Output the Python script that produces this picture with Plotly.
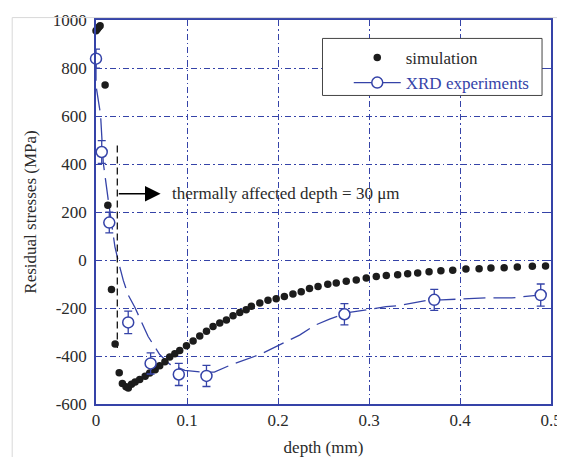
import plotly.graph_objects as go

# ---- data ----
sim_depth = [0.000, 0.0015, 0.003, 0.0045, 0.010, 0.013, 0.017, 0.021, 0.0255, 0.029, 0.033, 0.0355,
             0.039, 0.043, 0.048, 0.054, 0.059, 0.065, 0.070, 0.0757, 0.081, 0.0866, 0.092, 0.0994,
             0.1067, 0.114, 0.1214, 0.1286, 0.136, 0.1433, 0.1506, 0.158, 0.165, 0.1707, 0.180, 0.189,
             0.198, 0.207, 0.2164, 0.2255, 0.2346, 0.244, 0.2547, 0.264, 0.275, 0.286, 0.297, 0.308,
             0.319, 0.3315, 0.3425, 0.3535, 0.366, 0.379, 0.392, 0.4065, 0.421, 0.434, 0.4485, 0.463,
             0.4795, 0.494]
sim_stress = [955, 963, 970, 976, 729, 228, -123, -350, -470, -515, -528, -533,
              -518, -508, -498, -484, -471, -457, -441, -424, -404, -391, -377, -357,
              -337, -317, -297, -277, -263, -250, -232, -219, -207, -193, -179, -168,
              -161, -152, -142, -132, -119, -110, -101, -96, -89, -83, -75, -69,
              -65, -61, -57, -54, -49, -45, -43, -38, -36, -33, -32, -29,
              -26, -25]

xrd_depth = [0.0, 0.0063, 0.0146, 0.0354, 0.060, 0.091, 0.1214, 0.273, 0.3717, 0.4887]
xrd_stress = [839, 450, 156, -260, -431, -477, -483, -226, -166, -146]
xrd_error = [40, 47, 43, 47, 44, 46, 44, 44, 44, 46]

fit_depth = [0.0, 0.0, 0.005, 0.0063, 0.008, 0.0135, 0.0208, 0.0245, 0.030, 0.0354, 0.039, 0.0428,
             0.0573, 0.070, 0.081, 0.0976, 0.117, 0.130, 0.150, 0.180, 0.2237, 0.240, 0.2566,
             0.2785, 0.300, 0.3187, 0.3333, 0.366, 0.380, 0.4287, 0.457, 0.465, 0.487]
fit_stress = [839, 727, 606, 510, 405, 249, 55, -5, -85, -146, -173, -198,
              -319, -394, -434, -460, -467, -467, -434, -394, -313, -273, -246,
              -218, -206, -194, -190, -166, -166, -158, -158, -154, -146]

thermal_depth = [0.0234, 0.0234]
thermal_stress = [477, -367]
arrow_tail = (0.0234, 276)
arrow_head = (0.071, 276)
label_pos = (0.0811, 276)

x_ticks = [0, 0.1, 0.2, 0.3, 0.4, 0.5]
x_tick_labels = ["0", "0.1", "0.2", "0.3", "0.4", "0.5"]
y_ticks = [-600, -400, -200, 0, 200, 400, 600, 800, 1000]
y_tick_labels = ["-600", "-400", "-200", "0", "200", "400", "600", "800", "1000"]

BLUE = "#3543a8"
FONT = "Liberation Serif"
TXT = "#2a2a2a"

fig = go.Figure()
fig.add_trace(go.Scatter(x=fit_depth, y=fit_stress, mode="lines",
                         line=dict(color=BLUE, width=1.3, dash="22px,8px"),
                         showlegend=False, hoverinfo="skip"))
fig.add_trace(go.Scatter(x=thermal_depth, y=thermal_stress, mode="lines",
                         line=dict(color="black", width=1.2, dash="7px,4px"),
                         showlegend=False, hoverinfo="skip"))
fig.add_trace(go.Scatter(x=sim_depth, y=sim_stress, mode="markers", name="simulation",
                         marker=dict(color="#1c1c1c", size=7.5), cliponaxis=False))
fig.add_trace(go.Scatter(x=xrd_depth, y=xrd_stress, mode="markers", showlegend=False,
                         marker=dict(color="white", size=11, line=dict(color=BLUE, width=1.5)),
                         error_y=dict(type="data", array=xrd_error, color=BLUE, thickness=1.3, width=4),
                         cliponaxis=False))
fig.add_trace(go.Scatter(x=[None], y=[None], mode="lines+markers",
                         name="<span style='color:%s'>XRD experiments</span>" % BLUE,
                         line=dict(color=BLUE, width=1.3),
                         marker=dict(color="white", size=11, line=dict(color=BLUE, width=1.5))))

axis_common = dict(ticks="inside", ticklen=5, tickcolor=BLUE, tickwidth=1.2,
                   showline=True, linecolor=BLUE, linewidth=1.5, mirror="ticks",
                   showgrid=True, gridcolor=BLUE, gridwidth=1, griddash="6px,3px,1.5px,3px",
                   zeroline=False, ticklabeloverflow="allow",
                   tickfont=dict(family=FONT, size=17, color=TXT))

fig.update_layout(
    width=557, height=449,
    margin=dict(l=88, r=13, t=3, b=49),
    paper_bgcolor="white", plot_bgcolor="white",
    xaxis=dict(range=[0, 0.5], tickvals=x_ticks, ticktext=x_tick_labels,
               title=dict(text="depth (mm)", font=dict(family=FONT, size=17, color=TXT), standoff=12),
               **axis_common),
    yaxis=dict(range=[-600, 1000], tickvals=y_ticks, ticktext=y_tick_labels, ticklabelstandoff=4,
               title=dict(text="Residual stresses (MPa)", font=dict(family=FONT, size=17, color=TXT), standoff=12),
               **axis_common),
    legend=dict(x=0.5555, y=0.948, xanchor="left", yanchor="top", bgcolor="rgba(0,0,0,0)",
                font=dict(family=FONT, size=17, color=TXT), itemwidth=47, tracegroupgap=0),
    shapes=[
        dict(type="rect", xref="paper", yref="paper", x0=0.4978, x1=0.9803, y0=0.8035, y1=0.952,
             fillcolor="white", line=dict(color="#444444", width=1), layer="above"),
        dict(type="line", xref="paper", yref="paper", x0=-0.1842, x1=-0.1842, y0=-0.2, y1=1.0063,
             line=dict(color="#d8d8d8", width=1)),
        dict(type="line", xref="paper", yref="paper", x0=-0.1842, x1=1.05, y0=1.0063, y1=1.0063,
             line=dict(color="#d8d8d8", width=1)),
    ],
    annotations=[
        dict(x=arrow_head[0], y=arrow_head[1], ax=arrow_tail[0], ay=arrow_tail[1],
             xref="x", yref="y", axref="x", ayref="y", text="", showarrow=True,
             arrowhead=2, arrowsize=2.4, arrowwidth=1.3, arrowcolor="black"),
        dict(x=label_pos[0], y=label_pos[1], xref="x", yref="y", xanchor="left", yanchor="middle",
             text="thermally affected depth = 30 μm", showarrow=False,
             font=dict(family=FONT, size=17, color=TXT)),
    ],
)

fig.write_html("out.html")
